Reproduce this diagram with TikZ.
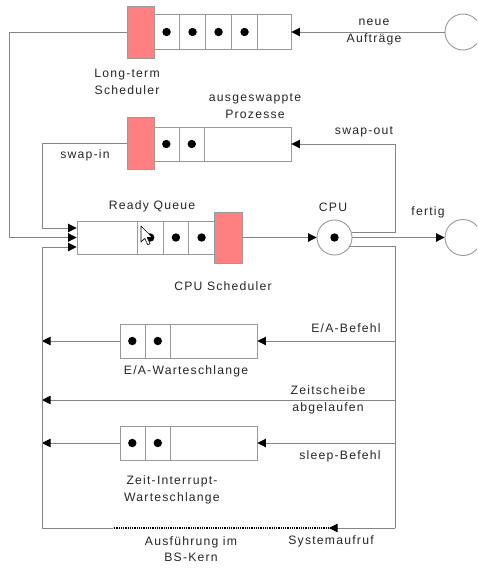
\documentclass[tikz,border=0pt]{standalone}
\usepackage{fontspec}
\setmainfont{Liberation Sans}[LetterSpace=10]
\usepackage{tikz}
\usetikzlibrary{arrows.meta}

\definecolor{schedpink}{HTML}{FF8080}
\definecolor{linegray}{HTML}{858585}
\definecolor{boxgray}{HTML}{9A9A9A}

\begin{document}
\begin{tikzpicture}[x=1pt, y=-1pt,
    every node/.style={font=\fontsize{12.2}{16.5}\selectfont, text=black!85, align=center},
    line/.style={draw=linegray, line width=0.9pt},
    arr/.style={line, -{Triangle[length=8.5pt, width=8.5pt, color=black]}},
    kern/.style={black, line width=1.1pt, dash pattern=on 1pt off 0.8pt},
    queue/.style={draw=boxgray, line width=0.9pt, fill=white, minimum width=137pt, inner sep=0pt},
    sched/.style={draw=boxgray, line width=0.9pt, fill=schedpink, minimum width=27pt, inner sep=0pt},
    station/.style={circle, draw=boxgray, line width=0.9pt, fill=white, inner sep=0pt},
    cell/.style={draw=boxgray, line width=0.9pt}]
      \clip (0,0) rectangle (477,568);

      % Queues and schedulers
      \node[queue, minimum height=35pt] (jobq) at (222.5,32) {};
      \node[sched, minimum height=52pt] (lts) at (140.5,32) {};
      \node[queue, minimum height=34pt] (swq) at (222.5,144) {};
      \node[sched, minimum height=52pt] (swp) at (140.5,143) {};
      \node[queue, minimum height=33pt] (rq) at (145.5,237.5) {};
      \node[sched, minimum width=28pt, minimum height=51pt] (cps) at (228,237.5) {};
      \node[queue, minimum height=34pt] (eaq) at (188.5,341) {};
      \node[queue, minimum height=34pt] (ziq) at (188.5,443) {};

      % Cells with waiting jobs
      \foreach \i in {1,...,4} {
        \draw[cell] ([xshift=\i*26pt]jobq.north west) -- ([xshift=\i*26pt]jobq.south west);
        \fill ([xshift=\i*26pt-13pt]jobq.west) circle (4.2pt);
      }
      \foreach \q in {swq, eaq, ziq}
        \foreach \i in {1,2} {
          \draw[cell] ([xshift=\i*25.5pt]\q.north west) -- ([xshift=\i*25.5pt]\q.south west);
          \fill ([xshift=\i*25.5pt-12.75pt]\q.west) circle (4.2pt);
        }
      \foreach \i in {1,2,3} {
        \draw[cell] ([xshift=-\i*25.7pt]rq.north east) -- ([xshift=-\i*25.7pt]rq.south east);
        \fill ([xshift=-\i*25.7pt+12.85pt]rq.east) circle (4.2pt);
      }

      % Mouse pointer over the ready queue
      \draw[black, fill=white, line width=0.6pt, line join=round]
        (141,226) -- ++(0,16) -- ++(3.8,-3.6) -- ++(3,6.4) -- ++(2.4,-1.1)
        -- ++(-3,-6.2) -- ++(5.2,0) -- cycle;

      % CPU and the two outside stations
      \node[station, minimum size=35pt] (cpu) at (334.5,237.5) {};
      \fill (cpu) circle (4.2pt);
      \node[station, minimum size=36pt] (neu) at (463,32) {};
      \node[station, minimum size=36pt] (done) at (463,237.5) {};

      % Helper points for the two vertical buses
      \coordinate (L) at (42,0);
      \coordinate (R) at (395,0);
      \coordinate (zs) at (395,400);
      \coordinate (br) at (395,528);
      \coordinate (sys) at (329,528);
      \coordinate (bsk) at (113,528);

      % Connectors
      \draw[arr] (neu.west) -- (jobq.east);
      \draw[arr] (lts.west) -| (9,237.5) -- (rq.west);
      \draw[arr] (swp.west) -| (42,228) -- ([yshift=9.5pt]rq.west);
      \draw[arr] (cps.east) -- (cpu.west);
      \draw[arr] (cpu.east) -- (done.west);
      \draw[arr] (cpu.18) -| (395,144) -- (swq.east);
      \draw[line] (cpu.-29) -| (br);
      \draw[arr] (eaq.east -| R) -- (eaq.east);
      \draw[arr] (eaq.west) -- (eaq.west -| L);
      \draw[arr] (zs) -- (zs -| L);
      \draw[arr] (ziq.east -| R) -- (ziq.east);
      \draw[arr] (ziq.west) -- (ziq.west -| L);
      \draw[arr] (br) -- (sys);
      \draw[kern] (sys) -- (bsk);
      \draw[arr] (bsk) -| (42,247) -- ([yshift=-9.5pt]rq.west);

      % Labels
      \node (lneu) at (374,32) {neue\\Aufträge};
      \node (llts) at (127,82) {Long-term\\Scheduler};
      \node (lswq) at (255,106) {ausgeswappte\\Prozesse};
      \node (lswin) at (85,155) {swap-in};
      \node (lswout) at (364,132) {swap-out};
      \node (lrq) at (152,206) {Ready Queue};
      \node (lcpu) at (333,207) {CPU};
      \node (ldone) at (428,212) {fertig};
      \node (lcps) at (223,286) {CPU Scheduler};
      \node (lea) at (346,328) {E/A-Befehl};
      \node (leaq) at (186,371) {E/A-Warteschlange};
      \node (lzs) at (328,400) {Zeitscheibe\\abgelaufen};
      \node (lsleep) at (340,456) {sleep-Befehl};
      \node (lziq) at (172,490) {Zeit-Interrupt-\\Warteschlange};
      \node (lbsk) at (191,549) {Ausführung im\\BS-Kern};
      \node (lsys) at (331,541) {Systemaufruf};
    \end{tikzpicture}
\end{document}
